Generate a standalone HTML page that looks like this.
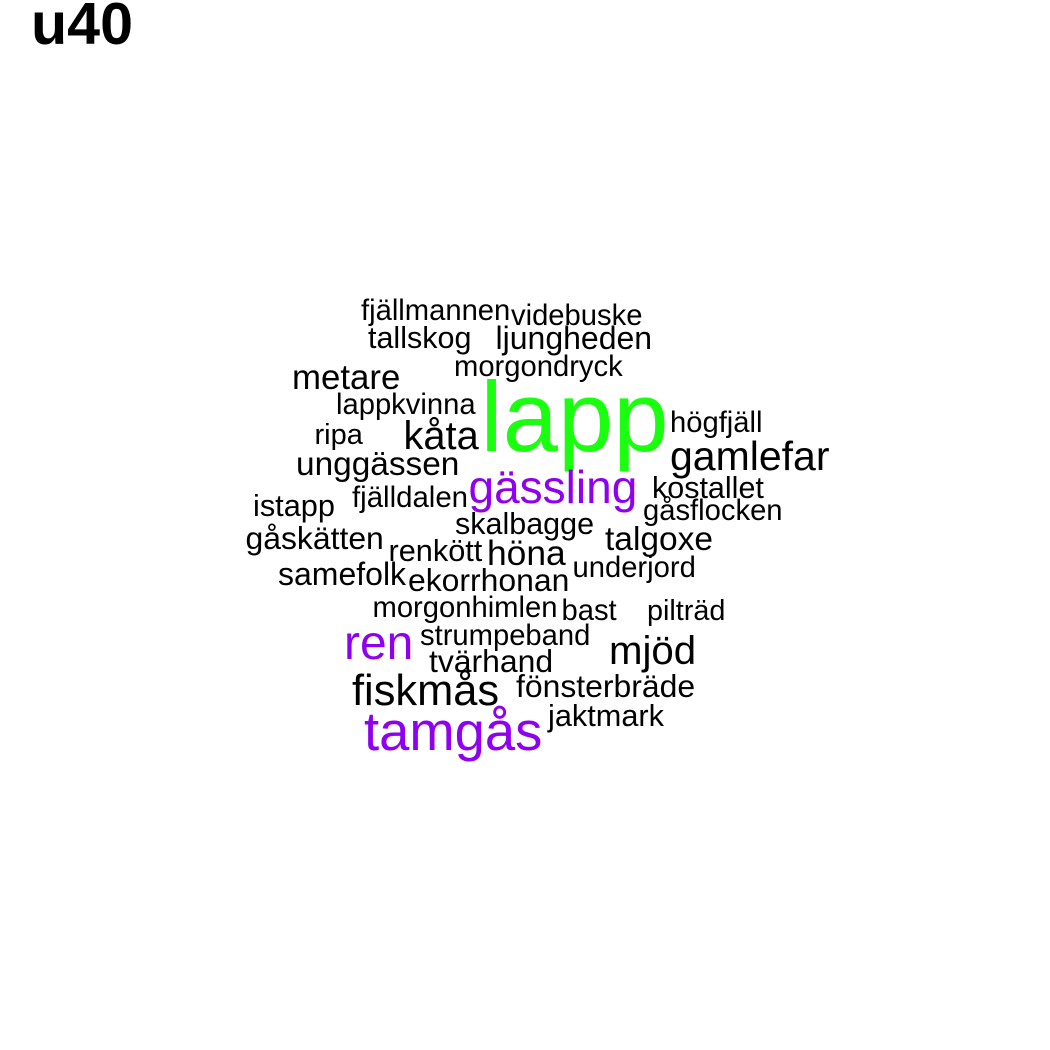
<!DOCTYPE html>
<html lang="sv">
<head>
<meta charset="utf-8">
<title>u40</title>
<style>
html,body{margin:0;padding:0;background:#fff;}
svg{display:block;}
text{font-family:"Liberation Sans",sans-serif;fill:#000;}
.g{fill:#1AFF0F;}
.p{fill:#9000F0;}
</style>
</head>
<body>
<svg width="1050" height="1050" viewBox="0 0 1050 1050" xmlns="http://www.w3.org/2000/svg">
<text x="31" y="44" font-size="59.2" font-weight="bold">u40</text>
<text x="361" y="320" font-size="29.2">fjällmannen</text>
<text x="511" y="325" font-size="29.2">videbuske</text>
<text x="368" y="348" font-size="30.5">tallskog</text>
<text x="495.5" y="349" font-size="32">ljungheden</text>
<text x="454" y="376" font-size="29.2">morgondryck</text>
<text x="292" y="389" font-size="34.8">metare</text>
<text x="336" y="414" font-size="29.2">lappkvinna</text>
<text x="314.5" y="444" font-size="29">ripa</text>
<text x="403.5" y="449" font-size="39.8">kåta</text>
<text x="480.5" y="451" font-size="99.5" class="g">lapp</text>
<text x="670" y="432" font-size="29.2">högfjäll</text>
<text x="296" y="475" font-size="33.4">unggässen</text>
<text x="670" y="470" font-size="41">gamlefar</text>
<text x="468.5" y="503" font-size="46" class="p">gässling</text>
<text x="652" y="498" font-size="30.5">kostallet</text>
<text x="352" y="507" font-size="29.4">fjälldalen</text>
<text x="253" y="516" font-size="30.7">istapp</text>
<text x="643" y="520" font-size="29.2">gåsflocken</text>
<text x="455" y="534" font-size="30.5">skalbagge</text>
<text x="245.5" y="549" font-size="31.9">gåskätten</text>
<text x="605" y="550" font-size="33.5">talgoxe</text>
<text x="388.5" y="561" font-size="30.7">renkött</text>
<text x="487" y="565" font-size="35.4">höna</text>
<text x="572.5" y="577" font-size="29.2">underjord</text>
<text x="278" y="585" font-size="32">samefolk</text>
<text x="408" y="591" font-size="31.9">ekorrhonan</text>
<text x="372.5" y="617" font-size="29.2">morgonhimlen</text>
<text x="561.5" y="620" font-size="29.2">bast</text>
<text x="647" y="620" font-size="28.8">pilträd</text>
<text x="420" y="645" font-size="29.2">strumpeband</text>
<text x="344" y="659" font-size="48" class="p">ren</text>
<text x="609" y="664" font-size="40.2">mjöd</text>
<text x="429" y="672" font-size="31.9">tvärhand</text>
<text x="516" y="697" font-size="31.9">fönsterbräde</text>
<text x="352" y="705" font-size="43.4">fiskmås</text>
<text x="548" y="726" font-size="30.7">jaktmark</text>
<text x="364" y="750" font-size="54.4" class="p">tamgås</text>
</svg>
</body>
</html>
